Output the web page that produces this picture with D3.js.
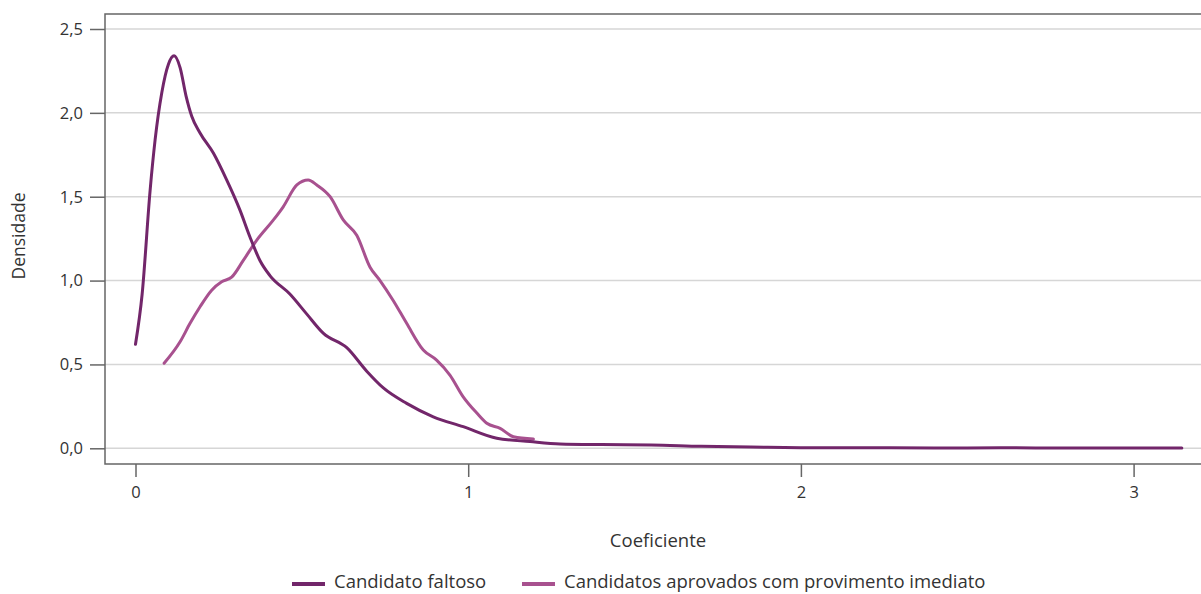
<!DOCTYPE html>
<html>
<head>
<meta charset="utf-8">
<script src="https://cdn.jsdelivr.net/npm/d3@7"></script>
<style>
  body { margin: 0; background: #fff; }
  svg { display: block; font-family: "Open Sans", "Noto Sans", sans-serif; }
</style>
</head>
<body>
<div id="chart-container"></div>
<script>
// Coeficiente values and density readings for each series
const faltosoX = [0, 0.02, 0.044, 0.059, 0.079, 0.099, 0.116, 0.134, 0.152, 0.169, 0.194, 0.234, 0.274, 0.314, 0.344, 0.374, 0.404, 0.464, 0.515, 0.565, 0.635, 0.695, 0.745, 0.815, 0.895, 0.985, 1.086, 1.186, 1.276, 1.4, 1.55, 1.7, 1.85, 2.0, 2.2, 2.4, 2.6, 2.8, 3.0, 3.145];
const faltosoY = [0.62, 0.92, 1.54, 1.84, 2.12, 2.29, 2.34, 2.27, 2.10, 1.98, 1.88, 1.76, 1.60, 1.42, 1.26, 1.12, 1.03, 0.92, 0.80, 0.685, 0.60, 0.46, 0.36, 0.268, 0.188, 0.129, 0.06, 0.04, 0.026, 0.022, 0.02, 0.012, 0.008, 0.004, 0.003, 0.002, 0.003, 0.002, 0.002, 0.002];

const aprovadosX = [0.086, 0.134, 0.164, 0.194, 0.229, 0.259, 0.289, 0.324, 0.364, 0.414, 0.444, 0.485, 0.519, 0.545, 0.585, 0.625, 0.665, 0.705, 0.735, 0.775, 0.815, 0.865, 0.905, 0.945, 0.985, 1.026, 1.056, 1.096, 1.136, 1.196];
const aprovadosY = [0.507, 0.635, 0.745, 0.844, 0.943, 0.993, 1.02, 1.12, 1.24, 1.36, 1.44, 1.57, 1.60, 1.57, 1.50, 1.36, 1.27, 1.08, 1.00, 0.88, 0.745, 0.586, 0.526, 0.437, 0.307, 0.21, 0.149, 0.119, 0.069, 0.055];

const seriesNames = ["Candidato faltoso", "Candidatos aprovados com provimento imediato"];
const seriesColors = ["#72266a", "#a8518f"];
const xTicks = [0, 1, 2, 3];
const yTicks = [0, 0.5, 1, 1.5, 2, 2.5];

const width = 1201, height = 594;
const frame = { left: 105, top: 14, bottom: 464 };

const svg = d3.select("#chart-container")
  .append("svg")
  .attr("width", width)
  .attr("height", height);

const x = d3.scaleLinear().domain([0, 3]).range([135.5, 1133.6]);
const y = d3.scaleLinear().domain([0, 2.5]).range([448.3, 29]);

const ptBR = d3.formatLocale({ decimal: ",", thousands: ".", grouping: [3], currency: ["R$", ""] });
const fmt = ptBR.format(".1f");

// grid
svg.append("g")
  .selectAll("line")
  .data(yTicks)
  .join("line")
  .attr("x1", frame.left)
  .attr("x2", width)
  .attr("y1", d => y(d))
  .attr("y2", d => y(d))
  .attr("stroke", "#d6d6d6")
  .attr("stroke-width", 1.5);

// frame
svg.append("path")
  .attr("d", `M${width},${frame.top}H${frame.left}V${frame.bottom}H${width}`)
  .attr("fill", "none")
  .attr("stroke", "#666")
  .attr("stroke-width", 1.5);

// y axis
const yAxis = svg.append("g")
  .attr("transform", `translate(${frame.left},0)`)
  .call(d3.axisLeft(y).tickValues(yTicks).tickFormat(fmt).tickSize(15).tickPadding(7));
yAxis.select(".domain").remove();

// x axis
const xAxis = svg.append("g")
  .attr("transform", `translate(0,${frame.bottom})`)
  .call(d3.axisBottom(x).tickValues(xTicks).tickFormat(d3.format("d")).tickSize(13).tickPadding(9));
xAxis.select(".domain").remove();

svg.selectAll(".tick line").attr("stroke", "#666").attr("stroke-width", 1.5);
svg.selectAll(".tick text")
  .attr("fill", "#333")
  .style("font-size", "16.5px")
  .style("font-family", "'Open Sans', 'Noto Sans', sans-serif");

// lines
const line = d3.line()
  .x(d => x(d[0]))
  .y(d => y(d[1]))
  .curve(d3.curveMonotoneX);

const series = [
  d3.zip(faltosoX, faltosoY),
  d3.zip(aprovadosX, aprovadosY)
];

// draw light series first so the dark tail sits on top
[1, 0].forEach(i => {
  svg.append("path")
    .datum(series[i])
    .attr("d", line)
    .attr("fill", "none")
    .attr("stroke", seriesColors[i])
    .attr("stroke-width", 3)
    .attr("stroke-linejoin", "round")
    .attr("stroke-linecap", "round");
});

// axis titles
svg.append("text")
  .attr("x", 658)
  .attr("y", 547)
  .attr("text-anchor", "middle")
  .attr("fill", "#333")
  .style("font-size", "18.5px")
  .text("Coeficiente");

svg.append("text")
  .attr("transform", "translate(25,236) rotate(-90)")
  .attr("text-anchor", "middle")
  .attr("fill", "#333")
  .style("font-size", "17.5px")
  .text("Densidade");

// legend
const legendX = [292, 522];
const legend = svg.append("g");
seriesNames.forEach((name, i) => {
  legend.append("line")
    .attr("x1", legendX[i])
    .attr("x2", legendX[i] + 33)
    .attr("y1", 584)
    .attr("y2", 584)
    .attr("stroke", seriesColors[i])
    .attr("stroke-width", 4);
  legend.append("text")
    .attr("x", legendX[i] + 42)
    .attr("y", 588)
    .attr("fill", "#333")
    .style("font-size", "18.5px")
    .text(name);
});
</script>
</body>
</html>
